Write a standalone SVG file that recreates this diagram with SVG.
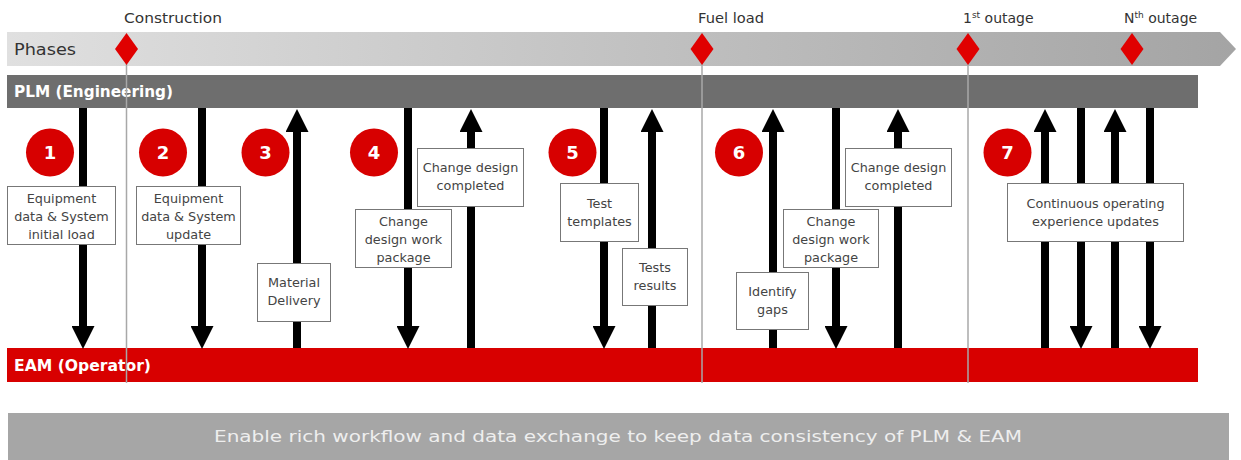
<svg xmlns="http://www.w3.org/2000/svg" width="1241" height="460" viewBox="0 0 1241 460">
<style>
.hdr{font-family:"DejaVu Sans","Open Sans",sans-serif;font-size:14px;fill:#333}
.bar{font-family:"DejaVu Sans","Open Sans",sans-serif;font-size:15px;font-weight:bold;fill:#fff}
.box rect{fill:#fff;stroke:#777;stroke-width:1}
.box text{font-family:"DejaVu Sans","Open Sans",sans-serif;font-size:12.8px;fill:#444;text-anchor:middle}
.num circle{fill:#d70000}
.num text{font-family:"DejaVu Sans","Open Sans",sans-serif;font-size:18px;font-weight:bold;fill:#fff;text-anchor:middle}
.dia{fill:#e00000}
.vline{stroke:#a8a8a8;stroke-width:1.5}
.arr{stroke:#000;stroke-width:8;fill:none;marker-end:url(#head)}
</style>
<defs>
<linearGradient id="phg" x1="0" y1="0" x2="1" y2="0">
<stop offset="0" stop-color="#e0e0e0"/>
<stop offset="1" stop-color="#a4a4a4"/>
</linearGradient>
<marker id="head" markerUnits="userSpaceOnUse" markerWidth="23" markerHeight="23" refX="0" refY="11.5" orient="auto" viewBox="0 0 23 23">
<path d="M0,0 L23,11.5 L0,23 z" fill="#000"/>
</marker>
</defs>

<g id="phases">
<path d="M7,32 L1220,32 L1236,49 L1220,66 L7,66 z" fill="url(#phg)"/>
<text class="hdr" x="14" y="55" style="font-size:16px" textLength="62" lengthAdjust="spacingAndGlyphs">Phases</text>
</g>

<g id="plm">
<rect x="7" y="75" width="1191" height="33" fill="#6e6e6e"/>
<text class="bar" x="14" y="97" textLength="159" lengthAdjust="spacingAndGlyphs">PLM (Engineering)</text>
</g>

<g id="eam">
<rect x="7" y="348" width="1191" height="34" fill="#d80000"/>
<text class="bar" x="14" y="371" textLength="137" lengthAdjust="spacingAndGlyphs">EAM (Operator)</text>
</g>

<g id="banner">
<rect x="8" y="413" width="1221" height="47" fill="#a6a6a6"/>
<text x="618" y="442" text-anchor="middle" textLength="808" lengthAdjust="spacingAndGlyphs" style="font-family:'DejaVu Sans','Open Sans',sans-serif;font-size:16.5px;fill:#eeeeee">Enable rich workflow and data exchange to keep data consistency of PLM &amp; EAM</text>
</g>

<g id="connectors">
<line class="arr" x1="83" y1="108" x2="83" y2="326"/>
<line class="arr" x1="202" y1="108" x2="202" y2="326"/>
<line class="arr" x1="297" y1="348" x2="297" y2="132"/>
<line class="arr" x1="408" y1="108" x2="408" y2="326"/>
<line class="arr" x1="471" y1="348" x2="471" y2="132"/>
<line class="arr" x1="604" y1="108" x2="604" y2="326"/>
<line class="arr" x1="652" y1="348" x2="652" y2="132"/>
<line class="arr" x1="773" y1="348" x2="773" y2="132"/>
<line class="arr" x1="836" y1="108" x2="836" y2="326"/>
<line class="arr" x1="898" y1="348" x2="898" y2="132"/>
<line class="arr" x1="1045" y1="348" x2="1045" y2="132"/>
<line class="arr" x1="1081" y1="108" x2="1081" y2="326"/>
<line class="arr" x1="1115" y1="348" x2="1115" y2="132"/>
<line class="arr" x1="1150" y1="108" x2="1150" y2="326"/>
</g>

<g id="milestones">
<line class="vline" x1="126.5" y1="64" x2="126.5" y2="383"/>
<line class="vline" x1="702" y1="64" x2="702" y2="383"/>
<line class="vline" x1="968" y1="64" x2="968" y2="383"/>
<path class="dia" d="M126.5,33 L138,49 L126.5,65 L115,49 z"/>
<path class="dia" d="M702,33 L713.5,49 L702,65 L690.5,49 z"/>
<path class="dia" d="M968,33 L979.5,49 L968,65 L956.5,49 z"/>
<path class="dia" d="M1132,33 L1143.5,49 L1132,65 L1120.5,49 z"/>
<text class="hdr" x="124" y="23" textLength="98" lengthAdjust="spacingAndGlyphs">Construction</text>
<text class="hdr" x="698" y="23" textLength="66" lengthAdjust="spacingAndGlyphs">Fuel load</text>
<text class="hdr" x="963" y="23">1<tspan font-size="9" dy="-5">st</tspan><tspan dy="5"> outage</tspan></text>
<text class="hdr" x="1124" y="23">N<tspan font-size="9" dy="-5">th</tspan><tspan dy="5"> outage</tspan></text>
</g>

<g id="step1" class="num"><circle cx="50" cy="152.5" r="24"/><text x="50" y="159">1</text></g>
<g id="step2" class="num"><circle cx="163" cy="152.5" r="24"/><text x="163" y="159">2</text></g>
<g id="step3" class="num"><circle cx="265.5" cy="152.5" r="24"/><text x="265.5" y="159">3</text></g>
<g id="step4" class="num"><circle cx="374" cy="152.5" r="24"/><text x="374" y="159">4</text></g>
<g id="step5" class="num"><circle cx="572.5" cy="152.5" r="24"/><text x="572.5" y="159">5</text></g>
<g id="step6" class="num"><circle cx="739" cy="152.5" r="24"/><text x="739" y="159">6</text></g>
<g id="step7" class="num"><circle cx="1007.5" cy="152.5" r="24"/><text x="1007.5" y="159">7</text></g>

<g id="box1" class="box"><rect x="7.5" y="186.5" width="108" height="58"/>
<text x="61.5" y="203">Equipment</text><text x="61.5" y="221">data &amp; System</text><text x="61.5" y="239">initial load</text></g>
<g id="box2" class="box"><rect x="136.5" y="186.5" width="104" height="58"/>
<text x="188.5" y="203">Equipment</text><text x="188.5" y="221">data &amp; System</text><text x="188.5" y="239">update</text></g>
<g id="box3" class="box"><rect x="257.5" y="263.5" width="73" height="58"/>
<text x="294" y="287">Material</text><text x="294" y="305">Delivery</text></g>
<g id="box4a" class="box"><rect x="355.5" y="209.5" width="96" height="58"/>
<text x="403.5" y="226">Change</text><text x="403.5" y="244">design work</text><text x="403.5" y="262">package</text></g>
<g id="box4b" class="box"><rect x="417.5" y="148.5" width="106" height="58"/>
<text x="470.5" y="172">Change design</text><text x="470.5" y="190">completed</text></g>
<g id="box5a" class="box"><rect x="560.5" y="183.5" width="78" height="58"/>
<text x="599.5" y="208">Test</text><text x="599.5" y="226">templates</text></g>
<g id="box5b" class="box"><rect x="622.5" y="248.5" width="65" height="57"/>
<text x="655" y="272">Tests</text><text x="655" y="290">results</text></g>
<g id="box6a" class="box"><rect x="736.5" y="272.5" width="72" height="57"/>
<text x="772.5" y="296">Identify</text><text x="772.5" y="314">gaps</text></g>
<g id="box6b" class="box"><rect x="783.5" y="209.5" width="95" height="58"/>
<text x="831" y="226">Change</text><text x="831" y="244">design work</text><text x="831" y="262">package</text></g>
<g id="box6c" class="box"><rect x="845.5" y="148.5" width="106" height="58"/>
<text x="898.5" y="172">Change design</text><text x="898.5" y="190">completed</text></g>
<g id="box7" class="box"><rect x="1007.5" y="183.5" width="176" height="58"/>
<text x="1095.5" y="208">Continuous operating</text><text x="1095.5" y="226">experience  updates</text></g>
</svg>
